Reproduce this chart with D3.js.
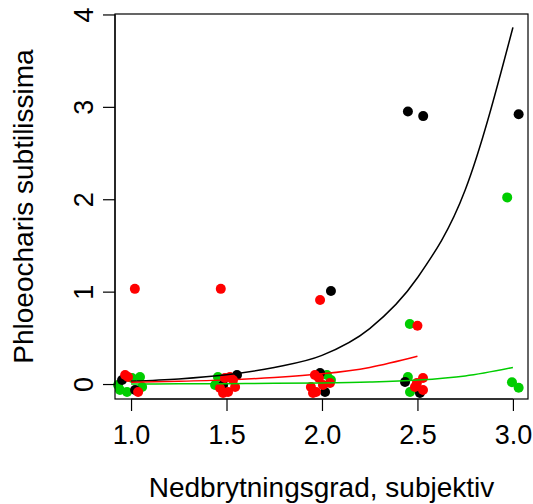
<!DOCTYPE html>
<html>
<head>
<meta charset="utf-8">
<script src="https://cdn.jsdelivr.net/npm/d3@7"></script>
<style>
  body { margin: 0; background: #fff; }
  text { font-family: "Liberation Sans", Arial, sans-serif; fill: #000; }
</style>
</head>
<body>
<div id="chart"></div>
<script>
// tick labels
const xTicks = [1.0, 1.5, 2.0, 2.5, 3.0]
const yTicks = [0, 1, 2, 3, 4]

const greenX = [0.942, 0.979, 1.047, 0.932, 1.005, 1.058, 1.455, 1.44, 2.026, 2.047, 2.45, 2.461, 2.46, 2.97, 2.995, 3.03]
const greenY = [-0.065, -0.087, 0.076, -0.011, 0.065, -0.032, 0.076, -0.011, 0.097, 0.043, 0.076, -0.087, 0.65, 2.02, 0.02, -0.04]

const blackX = [0.953, 1.021, 1.555, 1.482, 1.99, 2.016, 2.435, 2.513, 2.047, 2.45, 2.53, 3.03]
const blackY = [0.043, -0.065, 0.097, -0.011, 0.119, -0.087, 0.022, -0.097, 1.006, 2.95, 2.90, 2.92]

const redX = [0.969, 0.984, 1.037, 1.492, 1.518, 1.466, 1.508, 1.545, 1.534, 1.482, 1.963, 1.942, 1.969, 2.005, 2.042, 1.984, 1.953, 2.497, 2.529, 2.529, 2.487, 1.02, 1.47, 1.99, 2.50]
const redY = [0.097, 0.076, -0.087, 0.065, 0.076, -0.043, -0.087, -0.032, 0.043, -0.097, 0.097, -0.032, -0.087, -0.011, 0.011, 0.065, -0.097, 0.011, 0.065, -0.065, -0.032, 1.03, 1.03, 0.91, 0.63]

// fitted curves
const fitX = [1.0, 1.25, 1.5, 1.75, 2.0, 2.25, 2.5, 2.75, 3.0]
const blackFit = [0.03, 0.055, 0.10, 0.18, 0.31, 0.60, 1.15, 2.10, 3.86]
const redFit = [0.02, 0.03, 0.045, 0.07, 0.11, 0.18, 0.30]
const greenFit = [0.001, 0.002, 0.004, 0.008, 0.012, 0.022, 0.043, 0.088, 0.18]

const W = 533, H = 504
const plot = { left: 115, right: 528, top: 14, bottom: 399 }

const svg = d3.select("#chart").append("svg")
  .attr("width", W)
  .attr("height", H)

const x = d3.scaleLinear()
  .domain([0.916, 3.079])
  .range([plot.left, plot.right])

const y = d3.scaleLinear()
  .domain([-0.162, 4.005])
  .range([plot.bottom, plot.top])

// points
function dots (xs, ys, color) {
  svg.append("g")
    .selectAll("circle")
    .data(xs.map((d, i) => [d, ys[i]]))
    .join("circle")
    .attr("cx", d => x(d[0]))
    .attr("cy", d => y(d[1]))
    .attr("r", 5)
    .attr("fill", color)
}
dots(greenX, greenY, "#00cd00")
dots(blackX, blackY, "#000000")
dots(redX, redY, "#ff0000")

// fitted lines
const line = d3.line()
  .x(d => x(d[0]))
  .y(d => y(d[1]))
  .curve(d3.curveMonotoneX)

function fit (vals, color) {
  svg.append("path")
    .datum(vals.map((v, i) => [fitX[i], v]))
    .attr("d", line)
    .attr("fill", "none")
    .attr("stroke", color)
    .attr("stroke-width", 1.5)
}
fit(blackFit, "#000000")
fit(redFit, "#ff0000")
fit(greenFit, "#00cd00")

// box
svg.append("rect")
  .attr("x", plot.left)
  .attr("y", plot.top)
  .attr("width", plot.right - plot.left)
  .attr("height", plot.bottom - plot.top)
  .attr("fill", "none")
  .attr("stroke", "#000")
  .attr("stroke-width", 1.2)

// axes
const xAxis = svg.append("g")
  .attr("transform", `translate(0,${plot.bottom})`)
  .call(d3.axisBottom(x).tickValues(xTicks).tickFormat(d3.format(".1f")).tickSizeOuter(0).tickSizeInner(12).tickPadding(14))
xAxis.select(".domain").attr("d", `M${x(1)},0H${x(3)}`)
xAxis.selectAll("text").style("font-size", "27px").attr("font-family", null)

const yAxis = svg.append("g")
  .attr("transform", `translate(${plot.left},0)`)
  .call(d3.axisLeft(y).tickValues(yTicks).tickFormat(d3.format("d")).tickSizeOuter(0).tickSizeInner(12))
yAxis.select(".domain").attr("d", `M0,${y(0)}V${y(4)}`)
yAxis.selectAll("text")
  .style("font-size", "27px")
  .attr("font-family", null)
  .attr("text-anchor", "middle")
  .attr("dy", null)
  .attr("x", null)
  .attr("transform", "translate(-22,0) rotate(-90)")

svg.selectAll(".tick line, .domain").attr("stroke", "#000").attr("stroke-width", 1.2)

// axis titles
svg.append("text")
  .attr("x", (plot.left + plot.right) / 2)
  .attr("y", 497)
  .attr("text-anchor", "middle")
  .style("font-size", "28px")
  .text("Nedbrytningsgrad, subjektiv")

svg.append("text")
  .attr("transform", `translate(33,${(plot.top + plot.bottom) / 2}) rotate(-90)`)
  .attr("text-anchor", "middle")
  .style("font-size", "28px")
  .text("Phloeocharis subtilissima")
</script>
</body>
</html>
